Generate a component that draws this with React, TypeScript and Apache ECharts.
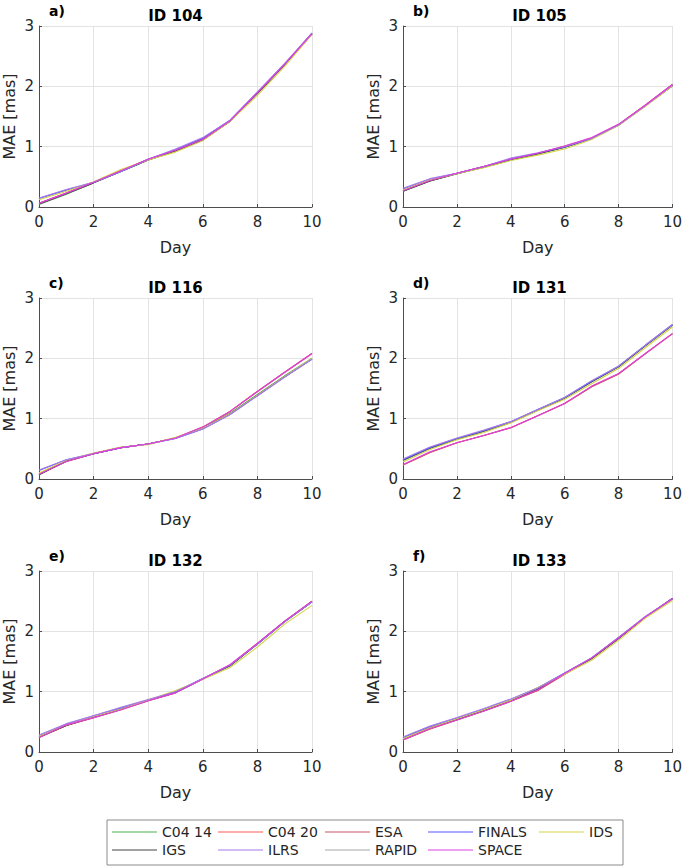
import { useEffect, useRef } from 'react';
import * as echarts from 'echarts';

const days = [0, 1, 2, 3, 4, 5, 6, 7, 8, 9, 10];

const seriesNames = ['C04 14', 'C04 20', 'ESA', 'FINALS', 'IDS', 'IGS', 'ILRS', 'RAPID', 'SPACE'];
const seriesColors = ['#4caf50', '#ff5a5a', '#c8576a', '#5555ff', '#d4d44a', '#444444', '#a77be8', '#a8a8a8', '#e040e0'];
// drawing order (higher = on top)
const seriesZ = [2, 3, 4, 6, 7, 5, 8, 1, 9];

const panelIds = ['ID 104', 'ID 105', 'ID 116', 'ID 131', 'ID 132', 'ID 133'];
const panelLetters = ['a)', 'b)', 'c)', 'd)', 'e)', 'f)'];

// order of rows: C04 14, C04 20, ESA, FINALS, IDS, IGS, ILRS, RAPID, SPACE
const id104 = [
  [0.04, 0.21, 0.40, 0.59, 0.78, 0.93, 1.11, 1.42, 1.88, 2.36, 2.87],
  [0.06, 0.23, 0.41, 0.60, 0.79, 0.94, 1.12, 1.43, 1.89, 2.36, 2.87],
  [0.06, 0.23, 0.41, 0.60, 0.79, 0.94, 1.13, 1.43, 1.89, 2.37, 2.88],
  [0.14, 0.28, 0.41, 0.59, 0.79, 0.95, 1.14, 1.44, 1.90, 2.37, 2.88],
  [0.12, 0.26, 0.42, 0.62, 0.78, 0.91, 1.10, 1.42, 1.85, 2.33, 2.86],
  [0.05, 0.22, 0.40, 0.59, 0.78, 0.93, 1.11, 1.42, 1.88, 2.36, 2.87],
  [0.15, 0.29, 0.41, 0.59, 0.79, 0.96, 1.15, 1.44, 1.91, 2.38, 2.88],
  [0.05, 0.22, 0.40, 0.59, 0.78, 0.93, 1.12, 1.42, 1.88, 2.36, 2.87],
  [0.06, 0.23, 0.41, 0.60, 0.79, 0.94, 1.12, 1.43, 1.89, 2.37, 2.87],
];

const id105 = [
  [0.26, 0.43, 0.55, 0.66, 0.78, 0.88, 0.99, 1.13, 1.36, 1.68, 2.01],
  [0.27, 0.44, 0.56, 0.67, 0.79, 0.89, 1.00, 1.14, 1.36, 1.69, 2.03],
  [0.27, 0.44, 0.56, 0.67, 0.79, 0.89, 1.01, 1.14, 1.37, 1.69, 2.03],
  [0.30, 0.46, 0.56, 0.67, 0.80, 0.89, 1.00, 1.13, 1.36, 1.68, 2.02],
  [0.28, 0.45, 0.55, 0.65, 0.77, 0.86, 0.96, 1.12, 1.35, 1.67, 2.01],
  [0.26, 0.43, 0.55, 0.66, 0.78, 0.88, 0.99, 1.13, 1.36, 1.68, 2.01],
  [0.31, 0.47, 0.56, 0.67, 0.81, 0.90, 1.00, 1.14, 1.36, 1.68, 2.02],
  [0.26, 0.43, 0.55, 0.66, 0.78, 0.88, 0.99, 1.13, 1.36, 1.68, 2.01],
  [0.27, 0.44, 0.56, 0.67, 0.79, 0.89, 1.01, 1.15, 1.37, 1.69, 2.03],
];

const id116 = [
  [0.07, 0.30, 0.42, 0.52, 0.58, 0.68, 0.85, 1.09, 1.40, 1.71, 2.00],
  [0.08, 0.29, 0.42, 0.52, 0.58, 0.68, 0.86, 1.12, 1.45, 1.77, 2.08],
  [0.08, 0.29, 0.42, 0.52, 0.58, 0.68, 0.86, 1.12, 1.45, 1.77, 2.08],
  [0.14, 0.32, 0.42, 0.52, 0.58, 0.67, 0.83, 1.07, 1.38, 1.69, 1.99],
  [0.10, 0.31, 0.43, 0.53, 0.57, 0.69, 0.84, 1.08, 1.39, 1.70, 2.00],
  [0.07, 0.30, 0.42, 0.52, 0.58, 0.68, 0.84, 1.08, 1.39, 1.70, 1.99],
  [0.15, 0.32, 0.42, 0.52, 0.58, 0.67, 0.83, 1.07, 1.38, 1.69, 1.99],
  [0.07, 0.30, 0.42, 0.52, 0.58, 0.68, 0.84, 1.08, 1.39, 1.70, 1.99],
  [0.08, 0.29, 0.42, 0.52, 0.58, 0.68, 0.86, 1.12, 1.45, 1.77, 2.08],
];

const id131 = [
  [0.31, 0.51, 0.66, 0.79, 0.94, 1.14, 1.34, 1.61, 1.86, 2.21, 2.55],
  [0.23, 0.44, 0.60, 0.72, 0.85, 1.05, 1.25, 1.53, 1.74, 2.08, 2.41],
  [0.23, 0.44, 0.60, 0.72, 0.85, 1.05, 1.25, 1.53, 1.74, 2.08, 2.41],
  [0.32, 0.52, 0.67, 0.80, 0.95, 1.15, 1.35, 1.62, 1.87, 2.22, 2.56],
  [0.28, 0.49, 0.65, 0.77, 0.93, 1.13, 1.32, 1.58, 1.83, 2.18, 2.52],
  [0.31, 0.51, 0.66, 0.79, 0.94, 1.14, 1.34, 1.61, 1.86, 2.21, 2.55],
  [0.33, 0.53, 0.68, 0.81, 0.95, 1.15, 1.35, 1.63, 1.87, 2.22, 2.56],
  [0.31, 0.51, 0.66, 0.79, 0.94, 1.14, 1.34, 1.61, 1.86, 2.21, 2.55],
  [0.24, 0.45, 0.60, 0.72, 0.85, 1.05, 1.25, 1.54, 1.75, 2.08, 2.41],
];

const id132 = [
  [0.25, 0.44, 0.58, 0.71, 0.86, 0.99, 1.21, 1.43, 1.79, 2.16, 2.49],
  [0.24, 0.44, 0.57, 0.70, 0.85, 0.98, 1.21, 1.44, 1.80, 2.17, 2.50],
  [0.24, 0.44, 0.57, 0.70, 0.85, 0.98, 1.21, 1.44, 1.80, 2.17, 2.50],
  [0.27, 0.46, 0.60, 0.73, 0.86, 1.00, 1.22, 1.44, 1.79, 2.16, 2.49],
  [0.26, 0.45, 0.59, 0.71, 0.86, 1.02, 1.20, 1.40, 1.74, 2.12, 2.43],
  [0.25, 0.44, 0.58, 0.71, 0.86, 0.99, 1.21, 1.43, 1.79, 2.16, 2.49],
  [0.28, 0.47, 0.60, 0.74, 0.87, 1.00, 1.22, 1.44, 1.79, 2.16, 2.49],
  [0.25, 0.44, 0.58, 0.71, 0.86, 0.99, 1.21, 1.43, 1.79, 2.16, 2.49],
  [0.24, 0.45, 0.57, 0.70, 0.85, 0.98, 1.21, 1.45, 1.80, 2.17, 2.50],
];

const id133 = [
  [0.21, 0.40, 0.54, 0.69, 0.85, 1.04, 1.30, 1.55, 1.88, 2.24, 2.54],
  [0.20, 0.38, 0.53, 0.68, 0.84, 1.02, 1.29, 1.55, 1.89, 2.24, 2.54],
  [0.20, 0.38, 0.53, 0.68, 0.84, 1.02, 1.29, 1.55, 1.89, 2.24, 2.54],
  [0.24, 0.42, 0.56, 0.71, 0.87, 1.06, 1.31, 1.56, 1.90, 2.24, 2.54],
  [0.22, 0.40, 0.55, 0.70, 0.86, 1.07, 1.29, 1.52, 1.85, 2.22, 2.51],
  [0.21, 0.40, 0.54, 0.69, 0.85, 1.04, 1.30, 1.55, 1.88, 2.24, 2.55],
  [0.25, 0.43, 0.57, 0.72, 0.88, 1.06, 1.31, 1.56, 1.90, 2.25, 2.54],
  [0.21, 0.40, 0.54, 0.69, 0.85, 1.04, 1.30, 1.55, 1.88, 2.24, 2.54],
  [0.20, 0.39, 0.53, 0.68, 0.84, 1.03, 1.30, 1.56, 1.89, 2.24, 2.54],
];

const panelData = [id104, id105, id116, id131, id132, id133];

const xTicks = { min: 0, max: 10, interval: 2 };
const yTicks = { min: 0, max: 3, interval: 1 };

const FONT = '"DejaVu Sans", Arial, Helvetica, sans-serif';
const TXT = '#262626';

// legend columns (two rows each), as in the original figure
const legendColumns = [
  ['C04 14', 'IGS'],
  ['C04 20', 'ILRS'],
  ['ESA', 'RAPID'],
  ['FINALS', 'SPACE'],
  ['IDS'],
];

function App() {
  const chartRef = useRef<HTMLDivElement>(null);

  useEffect(() => {
    document.body.style.margin = '0';
    if (!chartRef.current) return;
    const chart = echarts.init(chartRef.current, null, { renderer: 'svg' });

    const colLeft = [39, 403];
    const rowTop = [26, 298, 571];
    const plotW = 273;
    const plotH = 181;

    const grids: any[] = [];
    const xAxes: any[] = [];
    const yAxes: any[] = [];
    const series: any[] = [];
    const graphics: any[] = [];

    panelData.forEach((rows, p) => {
      const left = colLeft[p % 2];
      const top = rowTop[Math.floor(p / 2)];
      grids.push({ left, top, width: plotW, height: plotH });
      xAxes.push({
        type: 'value',
        gridIndex: p,
        ...xTicks,
        name: 'Day',
        nameLocation: 'middle',
        nameGap: 32,
        nameTextStyle: { fontSize: 16, color: TXT, fontFamily: FONT },
        axisLine: { show: true, onZero: false, lineStyle: { color: '#4d4d4d', width: 1 } },
        axisTick: { show: true, inside: true, length: 3, lineStyle: { color: '#4d4d4d' } },
        axisLabel: { fontSize: 15, color: TXT, fontFamily: FONT, margin: 7 },
        splitLine: { show: true, lineStyle: { color: '#e3e3e3', width: 1 } },
      });
      yAxes.push({
        type: 'value',
        gridIndex: p,
        ...yTicks,
        name: 'MAE [mas]',
        nameLocation: 'middle',
        nameGap: 22,
        nameTextStyle: { fontSize: 16, color: TXT, fontFamily: FONT },
        axisLine: { show: true, lineStyle: { color: '#4d4d4d', width: 1 } },
        axisTick: { show: true, inside: true, length: 3, lineStyle: { color: '#4d4d4d' } },
        axisLabel: { fontSize: 15, color: TXT, fontFamily: FONT, margin: 5 },
        splitLine: { show: true, lineStyle: { color: '#e3e3e3', width: 1 } },
      });
      rows.forEach((vals, s) => {
        series.push({
          type: 'line',
          name: seriesNames[s],
          xAxisIndex: p,
          yAxisIndex: p,
          data: days.map((d, i) => [d, vals[i]]),
          symbol: 'none',
          lineStyle: { color: seriesColors[s], width: 1.1 },
          itemStyle: { color: seriesColors[s] },
          z: 2 + seriesZ[s],
        });
      });
      graphics.push({
        type: 'text',
        x: left + plotW / 2,
        y: top - 10,
        style: {
          text: panelIds[p],
          font: `bold 15px ${FONT}`,
          fill: '#000',
          textAlign: 'center',
          textVerticalAlign: 'middle',
        },
      });
      graphics.push({
        type: 'text',
        x: left + 10,
        y: top - 15,
        style: {
          text: panelLetters[p],
          font: `bold 14px ${FONT}`,
          fill: '#000',
          textAlign: 'left',
          textVerticalAlign: 'middle',
        },
      });
    });

    graphics.push({
      type: 'rect',
      shape: { x: 107, y: 820, width: 516, height: 45 },
      style: { fill: '#fff', stroke: '#8a8a8a', lineWidth: 1 },
      z: -1,
    });

    const colX = [112, 218, 325, 428, 539];
    const legends = legendColumns.map((names, c) => ({
      orient: 'vertical',
      left: colX[c],
      top: 825,
      itemGap: 4,
      itemWidth: 45,
      itemHeight: 1,
      icon: 'rect',
      selectedMode: false,
      padding: 0,
      data: names,
      textStyle: { fontSize: 14, color: TXT, fontFamily: FONT, padding: [0, 0, 0, 0] },
    }));

    chart.setOption({
      animation: false,
      backgroundColor: '#fff',
      textStyle: { fontFamily: FONT },
      grid: grids,
      xAxis: xAxes,
      yAxis: yAxes,
      series,
      legend: legends,
      graphic: graphics,
    });

    return () => {
      chart.dispose();
    };
  }, []);

  return <div ref={chartRef} style={{ width: 685, height: 868 }} />;
}

export default App;
